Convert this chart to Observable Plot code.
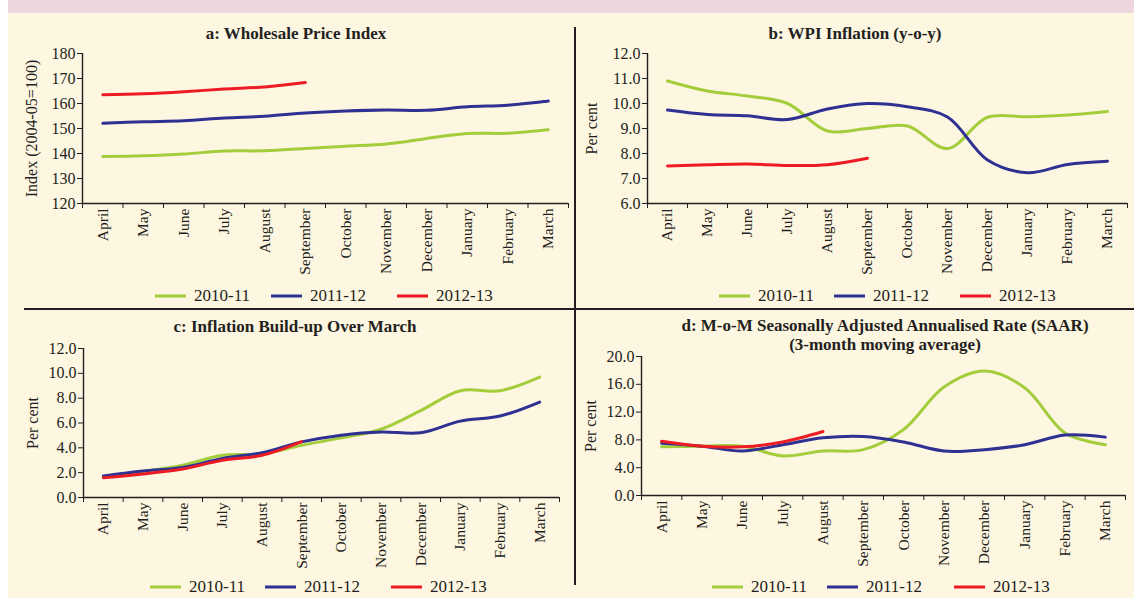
<!DOCTYPE html>
<html>
<head>
<meta charset="utf-8">
<script src="https://cdn.jsdelivr.net/npm/d3@7"></script>
<script src="https://cdn.jsdelivr.net/npm/@observablehq/plot@0.6"></script>
<style>
  body { margin: 0; background: #fff; }
  #root { position: relative; width: 1134px; height: 598px; overflow: hidden; background: #fff;
          font-family: "Liberation Serif", "Times New Roman", serif; color: #231f20; }
  .bg { position: absolute; left: 8px; top: 0; width: 1126px; height: 598px; background: #fdf6e1; }
  .band { position: absolute; left: 8px; top: 0; width: 1126px; height: 13px; background: #eed7dc; }
  .hline { position: absolute; left: 24px; top: 308px; width: 1110px; height: 1.5px; background: #231f20; }
  .vline { position: absolute; left: 574px; top: 27px; width: 1.5px; height: 558px; background: #231f20; }
  .title { position: absolute; font-weight: bold; font-size: 17px; white-space: nowrap;
           transform: translate(-50%, -50%); text-align: center; line-height: 19px; }
  .plot { position: absolute; left: 0; top: 0; }
  .lg { position: absolute; font-size: 17px; white-space: nowrap; transform: translateY(-50%); }
  .sw { position: absolute; height: 3px; transform: translateY(-50%); }
</style>
</head>
<body>
<div id="root">
  <div class="bg"></div>
  <div class="band"></div>
  <div class="hline"></div>
  <div class="vline"></div>
</div>
<script>
// ---- data ----
const months = ["April","May","June","July","August","September","October","November","December","January","February","March"];
const seriesNames = ["2010-11","2011-12","2012-13"];
const seriesColors = ["#a3cd3b","#2e3192","#ed1c24"];

// a: Wholesale Price Index (2004-05=100)
const wpi_2010 = [138.8,139.1,139.8,141.0,141.1,142.0,142.9,143.8,146.0,148.0,148.1,149.5];
const wpi_2011 = [152.1,152.7,153.1,154.2,154.9,156.2,157.0,157.4,157.3,158.7,159.3,161.0];
const wpi_2012 = [163.5,163.9,164.7,165.8,166.6,168.4];

// b: WPI Inflation (y-o-y)
const infl_2010 = [10.9,10.5,10.3,10.0,8.9,9.0,9.1,8.2,9.45,9.47,9.54,9.68];
const infl_2011 = [9.74,9.56,9.51,9.36,9.78,10.0,9.87,9.46,7.74,7.23,7.56,7.69];
const infl_2012 = [7.50,7.55,7.58,7.52,7.55,7.81];

// c: Inflation Build-up Over March
const build_2010 = [1.7,2.1,2.6,3.4,3.5,4.2,4.8,5.5,7.0,8.6,8.6,9.7];
const build_2011 = [1.74,2.14,2.41,3.14,3.61,4.48,5.02,5.28,5.22,6.15,6.56,7.69];
const build_2012 = [1.6,1.9,2.3,3.0,3.4,4.5];

// d: M-o-M SAAR (3-month moving average)
const saar_2010 = [7.0,7.1,7.1,5.7,6.4,6.6,9.5,15.6,17.9,15.5,9.0,7.3];
const saar_2011 = [7.5,7.1,6.4,7.3,8.3,8.5,7.7,6.4,6.6,7.3,8.7,8.4];
const saar_2012 = [7.8,7.1,7.0,7.7,9.2];

// ---- helpers ----
function rows(lists) {
  const out = [];
  lists.forEach((vals, s) => vals.forEach((v, i) => out.push({x: i + 0.5, y: v, series: seriesNames[s]})));
  return out;
}
const W = 1134, H = 598;
const ink = "#231f20";
const font = "'Liberation Serif', 'Times New Roman', serif";

function panel({data, yDomain, yTicks, fmt, frame, ylabel, ylabelDx}) {
  const [x0, x1, y0, y1] = frame;
  return Plot.plot({
    width: W, height: H,
    marginLeft: x0, marginRight: W - x1, marginTop: y0, marginBottom: H - y1,
    style: {background: "transparent", fontFamily: font, color: ink, overflow: "visible"},
    x: {type: "linear", domain: [0, 12]},
    y: {domain: yDomain},
    color: {domain: seriesNames, range: seriesColors},
    marks: [
      Plot.axisY({ticks: yTicks, tickSize: 5, tickPadding: 2, tickFormat: fmt, fontSize: 16, label: null, stroke: ink, fill: ink}),
      Plot.axisX({ticks: d3.range(13), tickSize: 5, tickFormat: () => "", label: null, stroke: ink}),
      Plot.axisX({ticks: d3.range(12).map(i => i + 0.5), tickSize: 0, tickPadding: 5, tickRotate: -90,
                  tickFormat: v => months[Math.floor(v)], fontSize: 15.5, label: null, fill: ink}),
      Plot.ruleX([0], {stroke: ink, strokeWidth: 1.4}),
      Plot.ruleY([yDomain[0]], {stroke: ink, strokeWidth: 1.4}),
      Plot.text([ylabel], {frameAnchor: "left", rotate: -90, dx: ylabelDx, lineAnchor: "middle",
                           textAnchor: "middle", fontSize: 16, fill: ink}),
      Plot.line(data, {x: "x", y: "y", z: "series", stroke: "series", strokeWidth: 3, curve: "catmull-rom"})
    ]
  });
}

const root = document.getElementById("root");
function add(el) { el.classList.add("plot"); root.appendChild(el); }

add(panel({data: rows([wpi_2010, wpi_2011, wpi_2012]), yDomain: [120, 180], yTicks: d3.range(120, 181, 10),
           fmt: d3.format("d"), frame: [82, 568, 53, 203], ylabel: "Index (2004-05=100)", ylabelDx: -51}));
add(panel({data: rows([infl_2010, infl_2011, infl_2012]), yDomain: [6, 12], yTicks: d3.range(6, 12.01, 1),
           fmt: d3.format(".1f"), frame: [647, 1127, 53, 203], ylabel: "Per cent", ylabelDx: -56}));
add(panel({data: rows([build_2010, build_2011, build_2012]), yDomain: [0, 12], yTicks: d3.range(0, 12.01, 2),
           fmt: d3.format(".1f"), frame: [83, 559, 348, 497], ylabel: "Per cent", ylabelDx: -51}));
add(panel({data: rows([saar_2010, saar_2011, saar_2012]), yDomain: [0, 20], yTicks: d3.range(0, 20.01, 4),
           fmt: d3.format(".1f"), frame: [641, 1125, 356, 495], ylabel: "Per cent", ylabelDx: -51}));

// titles
const titles = [
  {t: "a: Wholesale Price Index", x: 296, y: 33},
  {t: "b: WPI Inflation (y-o-y)", x: 855, y: 33},
  {t: "c: Inflation Build-up Over March", x: 295, y: 326},
  {t: "d: M-o-M Seasonally Adjusted Annualised Rate (SAAR)<br>(3-month moving average)", x: 885, y: 335}
];
titles.forEach(d => {
  const el = document.createElement("div");
  el.className = "title";
  el.innerHTML = d.t;
  el.style.left = d.x + "px";
  el.style.top = d.y + "px";
  root.appendChild(el);
});

// legends: swatch left positions for each panel
const legends = [
  {y: 296, sw: [155, 271, 397]},
  {y: 296, sw: [719, 834, 960]},
  {y: 587, sw: [150, 265, 391]},
  {y: 587, sw: [712, 827, 954]}
];
legends.forEach(L => {
  L.sw.forEach((x, i) => {
    const s = document.createElement("div");
    s.className = "sw";
    s.style.left = x + "px"; s.style.top = L.y + "px"; s.style.width = "31px";
    s.style.background = seriesColors[i];
    root.appendChild(s);
    const t = document.createElement("div");
    t.className = "lg";
    t.textContent = seriesNames[i];
    t.style.left = (x + 39) + "px"; t.style.top = L.y + "px";
    root.appendChild(t);
  });
});
</script>
</body>
</html>
